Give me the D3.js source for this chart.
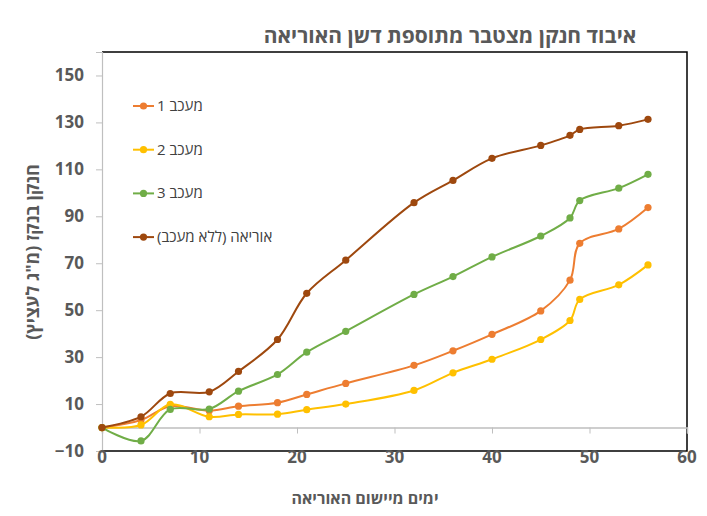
<!DOCTYPE html>
<html>
<head>
<meta charset="utf-8">
<script src="https://cdn.jsdelivr.net/npm/d3@7"></script>
<style>
  body { margin: 0; background: #fff; }
  text { font-family: "Open Sans", "Liberation Sans", sans-serif; }
</style>
</head>
<body>
<div id="chart"></div>
<script>
// data
var days = [0, 4, 7, 11, 14, 18, 21, 25, 32, 36, 40, 45, 48, 49, 53, 56];
var inhibitor1 = [0, 3.2, 9.1, 7.2, 9.1, 10.6, 14.1, 18.8, 26.5, 32.7, 39.7, 49.7, 62.8, 78.5, 84.6, 93.7];
var inhibitor2 = [0, 1.1, 9.9, 4.6, 5.6, 5.7, 7.6, 10.0, 15.8, 23.3, 29.1, 37.5, 45.6, 54.6, 60.8, 69.3];
var inhibitor3 = [0, -5.7, 7.7, 7.9, 15.5, 22.6, 32.1, 41.0, 56.7, 64.3, 72.7, 81.6, 89.3, 96.7, 102, 107.9];
var ureaOnly = [0, 4.6, 14.5, 15.2, 23.9, 37.5, 57.2, 71.3, 95.8, 105.3, 114.7, 120.2, 124.5, 127, 128.6, 131.3];
var seriesNames = ['מעכב 1', 'מעכב 2', 'מעכב 3', 'אוריאה (ללא מעכב)'];
var seriesColors = ['#ED7D31', '#FFC000', '#70AD47', '#9E480E'];
var yTicks = [-10, 10, 30, 50, 70, 90, 110, 130, 150];
var xTicks = [0, 10, 20, 30, 40, 50, 60];

var series = [inhibitor1, inhibitor2, inhibitor3, ureaOnly].map(function (vals, i) {
  return { name: seriesNames[i], color: seriesColors[i], points: days.map(function (d, j) { return [d, vals[j]]; }) };
});

var W = 707, H = 516;
// plot area edges (window.top is reserved, so no "top" here)
var plotL = 102, plotR = 687, plotT = 52, plotB = 451;

var svg = d3.select('#chart').append('svg')
  .attr('width', W)
  .attr('height', H);

var x = d3.scaleLinear().domain([0, 60]).range([plotL, plotR]);
var y = d3.scaleLinear().domain([-10, 160]).range([plotB, plotT]);

// title
svg.append('text')
  .attr('x', 450)
  .attr('y', 43)
  .attr('text-anchor', 'middle')
  .attr('font-size', '21px')
  .attr('font-weight', 'bold')
  .attr('fill', '#595959')
  .text('איבוד חנקן מצטבר מתוספת דשן האוריאה');

// plot frame: black on top, right and bottom, the y axis stays grey
var frame = svg.append('path')
  .attr('d', 'M' + plotL + ',' + plotT + 'H' + plotR + 'V' + plotB + 'H' + plotL)
  .attr('fill', 'none')
  .attr('stroke', '#000')
  .attr('stroke-width', 1.5);

// y axis
var yAxis = svg.append('g')
  .attr('transform', 'translate(' + plotL + ',0)')
  .call(d3.axisLeft(y).tickValues(yTicks).tickSize(6).tickPadding(12));
yAxis.select('.domain').attr('stroke', '#BFBFBF').attr('stroke-width', 1.2);
yAxis.selectAll('.tick line').attr('stroke', '#BFBFBF');
yAxis.selectAll('.tick text')
  .attr('font-size', '17px')
  .attr('font-weight', 'bold')
  .attr('fill', '#595959')
  .attr('font-family', '"Open Sans", "Liberation Sans", sans-serif');

// zero line with x ticks
var xZero = svg.append('g')
  .attr('transform', 'translate(0,' + y(0) + ')')
  .call(d3.axisBottom(x).tickValues(xTicks).tickSize(6).tickFormat(''));
xZero.select('.domain').attr('stroke', '#BFBFBF').attr('stroke-width', 1.5);
xZero.selectAll('.tick line').attr('stroke', '#BFBFBF');

// x labels at the bottom
svg.append('g')
  .selectAll('text')
  .data(xTicks)
  .enter()
  .append('text')
    .attr('x', function (d) { return x(d); })
    .attr('y', plotB + 12)
    .attr('text-anchor', 'middle')
    .attr('font-size', '17px')
    .attr('font-weight', 'bold')
    .attr('fill', '#595959')
    .text(function (d) { return d; });

// axis titles
svg.append('text')
  .attr('x', 365)
  .attr('y', 504)
  .attr('text-anchor', 'middle')
  .attr('font-size', '16px')
  .attr('font-weight', 'bold')
  .attr('fill', '#595959')
  .text('ימים מיישום האוריאה');

svg.append('text')
  .attr('transform', 'translate(39,252) rotate(-90)')
  .attr('text-anchor', 'middle')
  .attr('direction', 'rtl')
  .attr('font-size', '18px')
  .attr('font-weight', 'bold')
  .attr('fill', '#595959')
  .text('חנקן בנקז (מ"ג לעציץ)');

// lines
var line = d3.line()
  .x(function (p) { return x(p[0]); })
  .y(function (p) { return y(p[1]); })
  .curve(d3.curveCatmullRom.alpha(0.5));

var groups = svg.append('g')
  .selectAll('g')
  .data(series)
  .enter()
  .append('g');

groups.append('path')
  .attr('d', function (s) { return line(s.points); })
  .attr('fill', 'none')
  .attr('stroke', function (s) { return s.color; })
  .attr('stroke-width', 2);

groups.selectAll('circle')
  .data(function (s) { return s.points.map(function (p) { return { p: p, color: s.color }; }); })
  .enter()
  .append('circle')
    .attr('cx', function (d) { return x(d.p[0]); })
    .attr('cy', function (d) { return y(d.p[1]); })
    .attr('r', 3.6)
    .attr('fill', function (d) { return d.color; });

// legend
var legend = svg.append('g')
  .selectAll('g')
  .data(series)
  .enter()
  .append('g')
    .attr('transform', function (s, i) { return 'translate(0,' + (106 + i * 43.7) + ')'; });

legend.append('line')
  .attr('x1', 133).attr('x2', 154)
  .attr('stroke', function (s) { return s.color; })
  .attr('stroke-width', 2);

legend.append('circle')
  .attr('cx', 143.5)
  .attr('r', 3.6)
  .attr('fill', function (s) { return s.color; });

legend.append('text')
  .attr('x', 157)
  .attr('y', 5)
  .attr('direction', 'rtl')
  .attr('text-anchor', 'end')
  .attr('font-size', '15px')
  .attr('fill', '#404040')
  .text(function (s) { return s.name; });
</script>
</body>
</html>
